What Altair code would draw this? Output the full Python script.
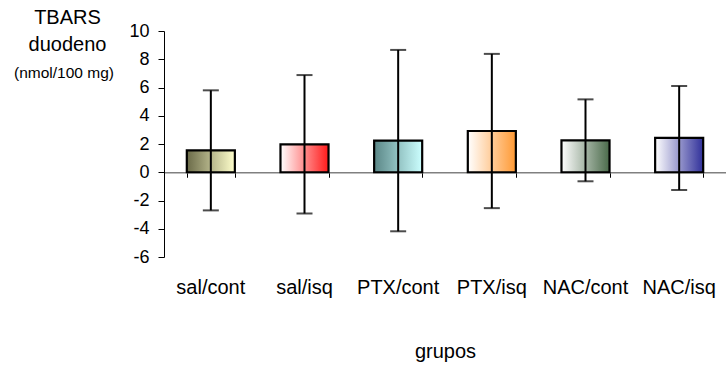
import altair as alt
import pandas as pd

groups = ["sal/cont", "sal/isq", "PTX/cont", "PTX/isq", "NAC/cont", "NAC/isq"]
means = [1.55, 1.98, 2.24, 2.92, 2.26, 2.43]
sds = [4.25, 4.90, 6.42, 5.46, 2.90, 3.68]
left_colors = ["#6a6a48", "#ffffff", "#5a8686", "#ffffff", "#ffffff", "#ffffff"]
right_colors = ["#ffffcc", "#ff1a1a", "#ccffff", "#ff9933", "#4a6a4a", "#30309a"]
y_ticks = [-6, -4, -2, 0, 2, 4, 6, 8, 10]
title_lines = ["TBARS", "duodeno"]
unit_label = "(nmol/100 mg)"
x_title = "grupos"

df = pd.DataFrame({"grupo": groups, "media": means, "dp": sds})

FONT = "Liberation Sans"
xscale = alt.Scale(domain=groups, paddingInner=0.487, paddingOuter=0.2435)
yscale = alt.Scale(domain=[-6, 10], nice=False, zero=False)

def xenc(axis=None):
    return alt.X("grupo:N", sort=groups, scale=xscale, axis=axis)

def yenc(field="media", axis=None):
    return alt.Y(f"{field}:Q", scale=yscale, axis=axis)

base = alt.Chart(df)

# layer that carries the labelled axes
axes_layer = base.mark_point(opacity=0).encode(
    x=xenc(alt.Axis(title=x_title, orient="bottom", domain=False, ticks=False,
                    tickSize=0, labelPadding=20, labelFontSize=20,
                    labelColor="black", labelAngle=0, titleFontSize=20,
                    titleFontWeight="normal", titleColor="black",
                    titlePadding=44)),
    y=yenc(axis=alt.Axis(values=y_ticks, title=title_lines, titleAngle=0,
                         titleAlign="center", titleBaseline="top",
                         titleX=-97, titleY=-24, titleFontSize=20,
                         titleFontWeight="normal", titleColor="black",
                         titleLineHeight=27,
                         labelExpr="toString(datum.value)",
                         domainColor="black", tickColor="black", tickSize=6,
                         labelFontSize=18, labelColor="black", labelPadding=9,
                         grid=False)),
)

# axis line at y = 0 with ticks between the groups
zero_layer = base.mark_point(opacity=0).encode(
    x=xenc(alt.Axis(title=None, orient="bottom", labels=False,
                    domainColor="#808080", domainWidth=1.5, tickColor="black",
                    tickSize=5, tickBand="extent", offset=-84.75, grid=False)),
    y=yenc(),
)

bar_layers = []
for g, lc, rc in zip(groups, left_colors, right_colors):
    grad = {"gradient": "linear", "x1": 0, "y1": 0, "x2": 1, "y2": 0,
            "stops": [{"offset": 0, "color": lc}, {"offset": 1, "color": rc}]}
    bar_layers.append(
        base.transform_filter(alt.datum.grupo == g)
        .mark_bar(stroke="black", strokeWidth=2.2)
        .encode(x=xenc(), y=yenc(), y2=alt.datum(0), fill=alt.value(grad))
    )

err = base.transform_calculate(
    lo="datum.media - datum.dp", hi="datum.media + datum.dp"
)
err_rule = err.mark_rule(color="black", strokeWidth=2).encode(
    x=xenc(), y=yenc("lo"), y2="hi:Q"
)
cap_lo = err.mark_tick(color="black", thickness=2, size=16, orient="horizontal").encode(
    x=xenc(), y=yenc("lo")
)
cap_hi = err.mark_tick(color="black", thickness=2, size=16, orient="horizontal").encode(
    x=xenc(), y=yenc("hi")
)

unit_text = alt.Chart(pd.DataFrame({"t": [unit_label]})).mark_text(
    fontSize=15.5, font=FONT, color="black", align="center", baseline="middle"
).encode(text="t:N", x=alt.value(-100), y=alt.value(42))

chart = alt.layer(
    axes_layer, zero_layer, *bar_layers, err_rule, cap_lo, cap_hi, unit_text
).resolve_axis(x="independent", y="independent").properties(
    width=562, height=226,
    autosize=alt.AutoSizeParams(type="none"),
    padding={"left": 164, "top": 31, "right": 0, "bottom": 116},
).configure(font=FONT).configure_view(stroke=None)

chart.save("out.html", embed_options={"renderer": "svg", "actions": False})
